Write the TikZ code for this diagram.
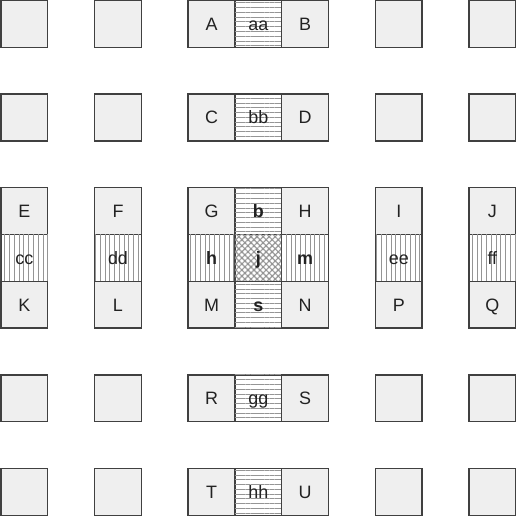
\documentclass[tikz,border=0pt]{standalone}
\usepackage{fontspec}
\setmainfont{Liberation Sans}
\usetikzlibrary{patterns.meta}
\definecolor{cellfill}{HTML}{EFEFEF}
\definecolor{cellline}{HTML}{404040}
\definecolor{hatch}{HTML}{959595}
\definecolor{txt}{HTML}{222222}
\tikzset{
  cell/.style={draw=cellline, line width=0.85pt, fill=cellfill, minimum size=1cm,
    inner sep=0pt, outer sep=0pt, text=txt, font=\fontsize{10.9}{12}\selectfont,
    text height=7.8pt, text depth=0pt},
  hcell/.style={cell, fill=white, postaction={pattern={Lines[angle=0,distance=2.9pt,line width=0.5pt]}, pattern color=hatch}},
  vcell/.style={cell, fill=white, postaction={pattern={Lines[angle=90,distance=2.9pt,line width=0.5pt]}, pattern color=hatch}},
  xcell/.style={cell, fill=white,
    postaction={pattern={Lines[angle=45,distance=2.6pt,line width=0.7pt]}, pattern color=hatch},
    postaction={pattern={Lines[angle=-45,distance=2.6pt,line width=0.7pt]}, pattern color=hatch}},
  bold/.style={font=\fontsize{10.9}{12}\selectfont\bfseries}
}
\begin{document}
\begin{tikzpicture}
\useasboundingbox (-0.021,0.01) rectangle (11.069,-11.058);
% row 0
\node[cell] (p00) at (0.5,-0.5) {};
\node[cell] (p02) at (2.5,-0.5) {};
\node[cell] (A) at (4.5,-0.5) {A};
\node[hcell] (aa) at (5.5,-0.5) {aa};
\node[cell] (B) at (6.5,-0.5) {B};
\node[cell] (p08) at (8.5,-0.5) {};
\node[cell] (p010) at (10.5,-0.5) {};
% row 2
\node[cell] (p20) at (0.5,-2.5) {};
\node[cell] (p22) at (2.5,-2.5) {};
\node[cell] (C) at (4.5,-2.5) {C};
\node[hcell] (bb) at (5.5,-2.5) {bb};
\node[cell] (D) at (6.5,-2.5) {D};
\node[cell] (p28) at (8.5,-2.5) {};
\node[cell] (p210) at (10.5,-2.5) {};
% row 4
\node[cell] (E) at (0.5,-4.5) {E};
\node[cell] (F) at (2.5,-4.5) {F};
\node[cell] (G) at (4.5,-4.5) {G};
\node[hcell,bold] (b) at (5.5,-4.5) {b};
\node[cell] (H) at (6.5,-4.5) {H};
\node[cell] (I) at (8.5,-4.5) {I};
\node[cell] (J) at (10.5,-4.5) {J};
% row 5
\node[vcell] (cc) at (0.5,-5.5) {cc};
\node[vcell] (dd) at (2.5,-5.5) {dd};
\node[vcell,bold] (h) at (4.5,-5.5) {h};
\node[xcell,bold] (j) at (5.5,-5.5) {j};
\node[vcell,bold] (m) at (6.5,-5.5) {m};
\node[vcell] (ee) at (8.5,-5.5) {ee};
\node[vcell] (ff) at (10.5,-5.5) {ff};
% row 6
\node[cell] (K) at (0.5,-6.5) {K};
\node[cell] (L) at (2.5,-6.5) {L};
\node[cell] (M) at (4.5,-6.5) {M};
\node[hcell,bold] (s) at (5.5,-6.5) {s};
\node[cell] (N) at (6.5,-6.5) {N};
\node[cell] (P) at (8.5,-6.5) {P};
\node[cell] (Q) at (10.5,-6.5) {Q};
% row 8
\node[cell] (p80) at (0.5,-8.5) {};
\node[cell] (p82) at (2.5,-8.5) {};
\node[cell] (R) at (4.5,-8.5) {R};
\node[hcell] (gg) at (5.5,-8.5) {gg};
\node[cell] (S) at (6.5,-8.5) {S};
\node[cell] (p88) at (8.5,-8.5) {};
\node[cell] (p810) at (10.5,-8.5) {};
% row 10
\node[cell] (p100) at (0.5,-10.5) {};
\node[cell] (p102) at (2.5,-10.5) {};
\node[cell] (T) at (4.5,-10.5) {T};
\node[hcell] (hh) at (5.5,-10.5) {hh};
\node[cell] (U) at (6.5,-10.5) {U};
\node[cell] (p108) at (8.5,-10.5) {};
\node[cell] (p1010) at (10.5,-10.5) {};
\end{tikzpicture}
\end{document}
